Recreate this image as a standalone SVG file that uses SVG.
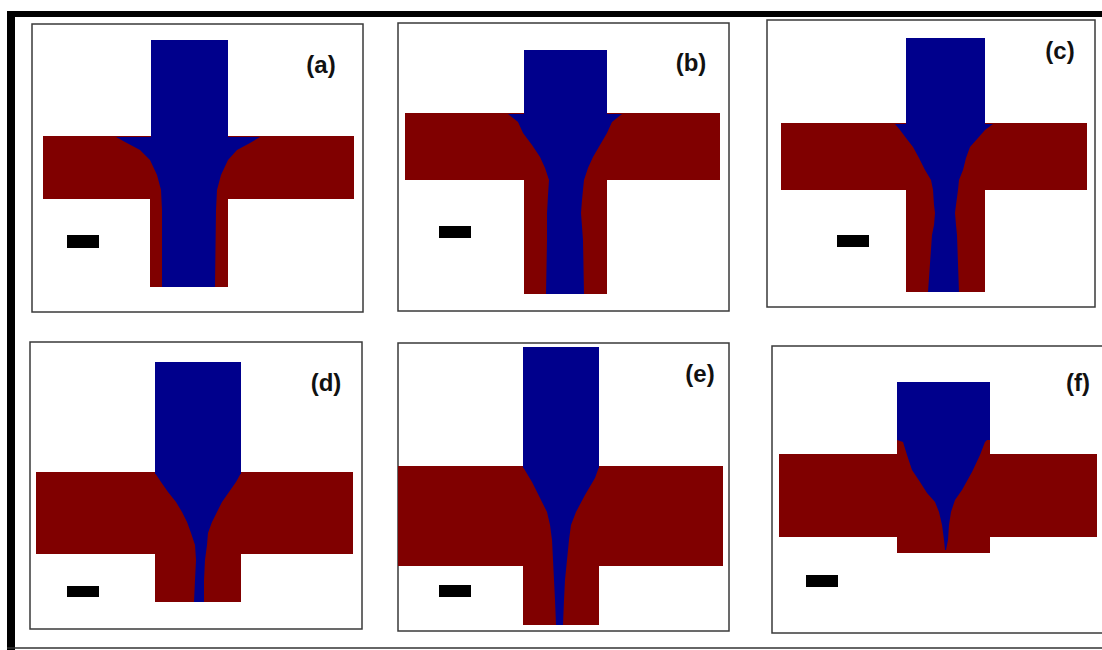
<svg xmlns="http://www.w3.org/2000/svg" width="1102" height="650" viewBox="0 0 1102 650">
  <style>
    .frame { fill: #ffffff; stroke: #3a3a3a; stroke-width: 1.5; }
    .oil { fill: #800000; }
    .water { fill: #00008c; }
    .bar { fill: #000000; }
    .lbl { font-family: "Liberation Sans", Arial, sans-serif; font-weight: bold; font-size: 24px; fill: #111111; text-anchor: middle; }
  </style>
  <rect x="0" y="0" width="1102" height="650" fill="#ffffff"/>

  <!-- outer figure border -->
  <rect x="7" y="11" width="1095" height="6" fill="#000000"/>
  <rect x="7" y="11" width="8" height="639" fill="#000000"/>
  <line x1="7" y1="648" x2="1102" y2="648" stroke="#333333" stroke-width="1.5"/>

  <!-- (a) -->
  <g id="panel-a">
    <rect class="frame" x="32" y="24" width="331" height="288"/>
    <rect class="oil" x="43" y="136" width="311" height="63"/>
    <rect class="oil" x="150" y="136" width="78" height="151"/>
    <rect class="water" x="151" y="40" width="77" height="98"/>
    <path class="water" d="M116,137 L260,137 L250,143 L237,150 L228,160 L221,175 L217,190 L216,210 L215,287 L162,287 L162,210 L161,190 L157,175 L150,160 L140,150 L125,142 Z"/>
    <rect class="bar" x="67" y="235" width="32" height="13"/>
    <text class="lbl" x="321" y="73">(a)</text>
  </g>

  <!-- (b) -->
  <g id="panel-b">
    <rect class="frame" x="398" y="23" width="331" height="288"/>
    <rect class="oil" x="405" y="113" width="315" height="67"/>
    <rect class="oil" x="524" y="113" width="83" height="181"/>
    <rect class="water" x="524" y="50" width="83" height="65"/>
    <path class="water" d="M508,114 L622,114 L612,122 L607,133 L600,145 L593,157 L588,168 L584,180 L582,200 L581,213 L583,240 L584,294 L546,294 L547,240 L547,213 L548,195 L549,180 L545,168 L540,157 L532,145 L523,133 L518,122 Z"/>
    <rect class="bar" x="439" y="226" width="32" height="12"/>
    <text class="lbl" x="691" y="71">(b)</text>
  </g>

  <!-- (c) -->
  <g id="panel-c">
    <rect class="frame" x="767" y="20" width="328" height="287"/>
    <rect class="oil" x="781" y="123" width="306" height="67"/>
    <rect class="oil" x="906" y="123" width="79" height="169"/>
    <rect class="water" x="906" y="38" width="79" height="87"/>
    <path class="water" d="M895,124 L993,124 L985,130 L978,138 L970,147 L966,158 L963,170 L959,180 L958,190 L956,205 L955,213 L956,225 L957,235 L959,292 L928,292 L932,235 L934,225 L935,213 L934,205 L933,190 L931,180 L925,170 L919,158 L913,147 L906,138 L900,130 Z"/>
    <rect class="bar" x="837" y="235" width="32" height="12"/>
    <text class="lbl" x="1060" y="59">(c)</text>
  </g>

  <!-- (d) -->
  <g id="panel-d">
    <rect class="frame" x="30" y="342" width="332" height="287"/>
    <rect class="oil" x="36" y="472" width="317" height="82"/>
    <rect class="oil" x="155" y="472" width="86" height="130"/>
    <rect class="water" x="155" y="362" width="86" height="112"/>
    <path class="water" d="M155,473 L241,473 L236,482 L229,492 L222,502 L217,512 L212,522 L208,533 L207,545 L205,560 L204,580 L204,602 L194,602 L195,580 L196,560 L195,545 L191,533 L187,522 L182,512 L176,502 L168,492 L161,482 Z"/>
    <rect class="bar" x="67" y="586" width="32" height="11"/>
    <text class="lbl" x="326" y="391">(d)</text>
  </g>

  <!-- (e) -->
  <g id="panel-e">
    <rect class="frame" x="398" y="343" width="331" height="288"/>
    <rect class="oil" x="398" y="466" width="325" height="100"/>
    <rect class="oil" x="523" y="466" width="76" height="159"/>
    <rect class="water" x="523" y="347" width="76" height="121"/>
    <path class="water" d="M523,467 L599,467 L595,478 L585,495 L576,512 L571,525 L569,540 L567,560 L565,580 L564,600 L563,625 L556,625 L555,600 L554,580 L553,560 L552,540 L550,525 L547,512 L540,498 L532,482 Z"/>
    <rect class="bar" x="439" y="585" width="32" height="12"/>
    <text class="lbl" x="700" y="382">(e)</text>
  </g>

  <!-- (f) -->
  <g id="panel-f">
    <rect class="frame" x="772" y="346" width="332" height="287"/>
    <rect class="oil" x="779" y="454" width="318" height="83"/>
    <rect class="oil" x="897" y="437" width="93" height="116"/>
    <rect class="water" x="897" y="382" width="93" height="58"/>
    <path class="water" d="M897,440 L903,442 L907,455 L912,470 L920,482 L927,493 L935,502 L939,512 L942,525 L944,540 L945,550 L946,550 L948,540 L949,525 L951,512 L955,500 L962,490 L972,472 L980,455 L985,442 L990,437 L990,440 Z"/>
    <rect class="bar" x="806" y="575" width="32" height="12"/>
    <text class="lbl" x="1078" y="391">(f)</text>
  </g>
</svg>
